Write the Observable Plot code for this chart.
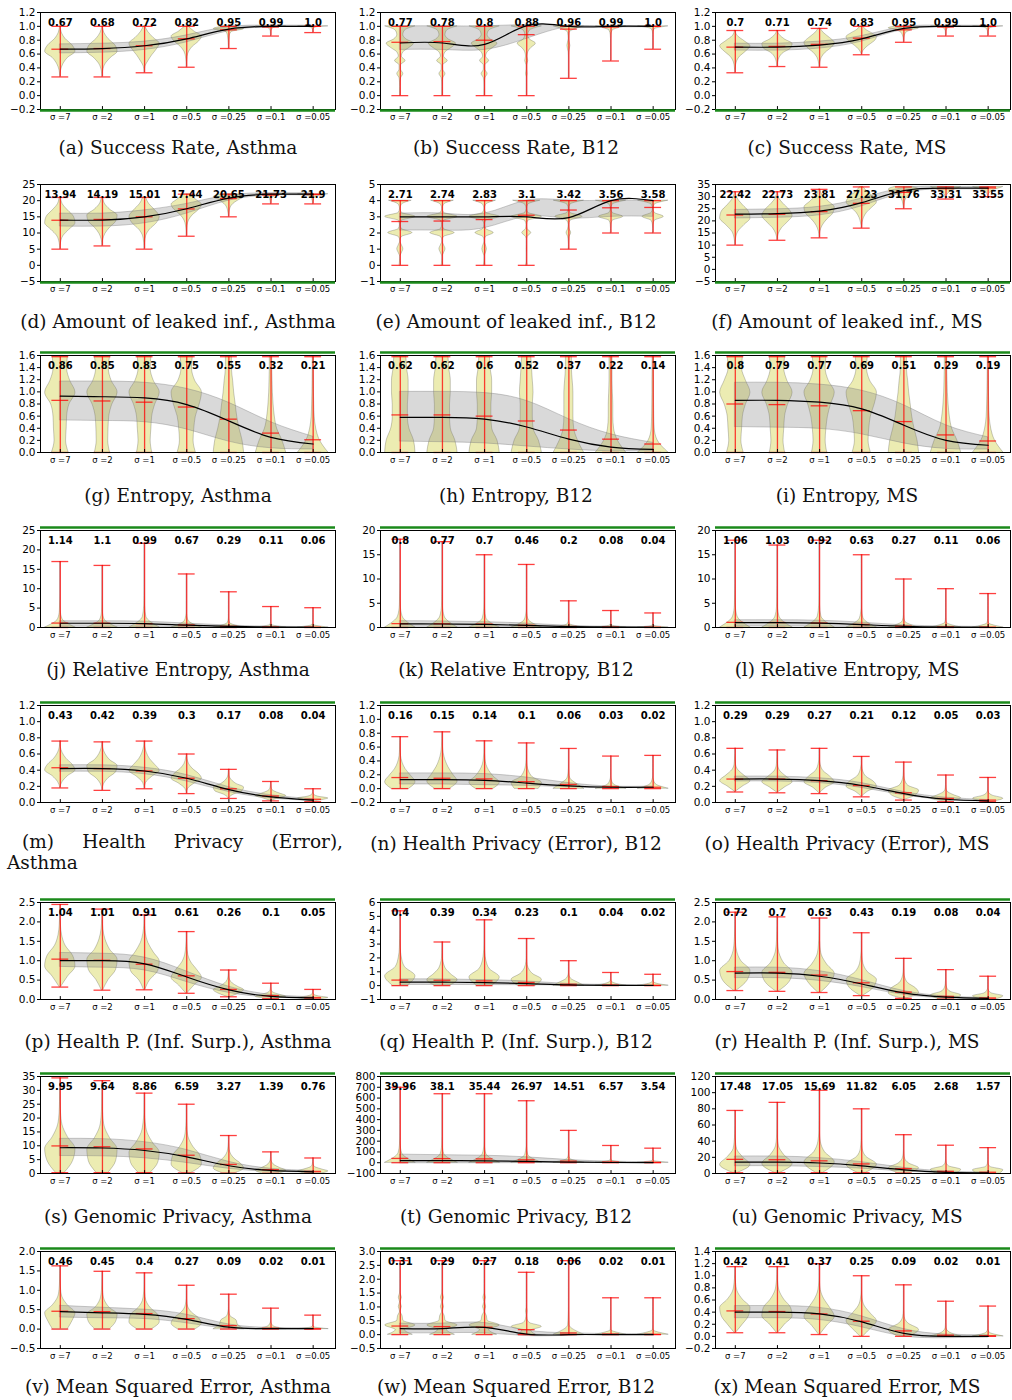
<!DOCTYPE html>
<html><head><meta charset="utf-8">
<script src="https://cdn.jsdelivr.net/npm/d3@7"></script>
<script src="https://cdn.jsdelivr.net/npm/@observablehq/plot@0.6"></script>
<style>
body{margin:0;background:#fff;}
#root{position:relative;width:1012px;height:1400px;overflow:hidden;background:#fff;}
.panel{position:absolute;}
.cap{position:absolute;font-family:"DejaVu Serif",serif;font-size:18.5px;color:#111;white-space:nowrap;transform:translate(-50%,-50%);}
.capm{position:absolute;font-family:"DejaVu Serif",serif;font-size:18.5px;color:#111;white-space:nowrap;}
.capm .l1{display:flex;justify-content:space-between;}
</style></head><body><div id="root"></div><script>
// ---------------- DATA ----------------
const SIGMA_LABELS = ["σ =7","σ =2","σ =1","σ =0.5","σ =0.25","σ =0.1","σ =0.05"];
const CAPTIONS = ["(a) Success Rate, Asthma","(b) Success Rate, B12","(c) Success Rate, MS",
"(d) Amount of leaked inf., Asthma","(e) Amount of leaked inf., B12","(f) Amount of leaked inf., MS",
"(g) Entropy, Asthma","(h) Entropy, B12","(i) Entropy, MS",
"(j) Relative Entropy, Asthma","(k) Relative Entropy, B12","(l) Relative Entropy, MS",
"(m) Health Privacy (Error), Asthma","(n) Health Privacy (Error), B12","(o) Health Privacy (Error), MS",
"(p) Health P. (Inf. Surp.), Asthma","(q) Health P. (Inf. Surp.), B12","(r) Health P. (Inf. Surp.), MS",
"(s) Genomic Privacy, Asthma","(t) Genomic Privacy, B12","(u) Genomic Privacy, MS",
"(v) Mean Squared Error, Asthma","(w) Mean Squared Error, B12","(x) Mean Squared Error, MS"];
const Y_DOMAINS = [[-0.2,1.2],[-0.2,1.2],[-0.2,1.2],[-5,25],[-1,5],[-5,35],[0,1.6],[0,1.6],[0,1.6],
[0,25],[0,20],[0,20],[0,1.2],[-0.2,1.2],[0,1.2],[0,2.5],[-1,6],[0,2.5],[0,35],[-100,800],[0,120],
[-0.5,2.0],[-0.5,3.0],[-0.2,1.4]];
const Y_STEPS = [0.2,0.2,0.2,5,1,5,0.2,0.2,0.2,5,5,5,0.2,0.2,0.2,0.5,1,0.5,5,100,20,0.5,0.5,0.2];
const Y_DECIMALS = [1,1,1,0,0,0,1,1,1,0,0,0,1,1,1,1,0,1,0,0,0,1,1,1];
const MEAN_LABELS = [
["0.67","0.68","0.72","0.82","0.95","0.99","1.0"],["0.77","0.78","0.8","0.88","0.96","0.99","1.0"],["0.7","0.71","0.74","0.83","0.95","0.99","1.0"],
["13.94","14.19","15.01","17.44","20.65","21.73","21.9"],["2.71","2.74","2.83","3.1","3.42","3.56","3.58"],["22.42","22.73","23.81","27.23","31.76","33.31","33.55"],
["0.86","0.85","0.83","0.75","0.55","0.32","0.21"],["0.62","0.62","0.6","0.52","0.37","0.22","0.14"],["0.8","0.79","0.77","0.69","0.51","0.29","0.19"],
["1.14","1.1","0.99","0.67","0.29","0.11","0.06"],["0.8","0.77","0.7","0.46","0.2","0.08","0.04"],["1.06","1.03","0.92","0.63","0.27","0.11","0.06"],
["0.43","0.42","0.39","0.3","0.17","0.08","0.04"],["0.16","0.15","0.14","0.1","0.06","0.03","0.02"],["0.29","0.29","0.27","0.21","0.12","0.05","0.03"],
["1.04","1.01","0.91","0.61","0.26","0.1","0.05"],["0.4","0.39","0.34","0.23","0.1","0.04","0.02"],["0.72","0.7","0.63","0.43","0.19","0.08","0.04"],
["9.95","9.64","8.86","6.59","3.27","1.39","0.76"],["39.96","38.1","35.44","26.97","14.51","6.57","3.54"],["17.48","17.05","15.69","11.82","6.05","2.68","1.57"],
["0.46","0.45","0.4","0.27","0.09","0.02","0.01"],["0.31","0.29","0.27","0.18","0.06","0.02","0.01"],["0.42","0.41","0.37","0.25","0.09","0.02","0.01"]];
const MINS = [
[0.27,0.27,0.33,0.41,0.68,0.86,0.91],[0,0,0,0,0.25,0.5,0.67],[0.33,0.42,0.41,0.59,0.77,0.86,0.86],
[5,6,5,9,15,19,19],[0,0,0,0,1,2,2],[10,12,13,17,25,29,30],
[0,0,0,0,0,0,0],[0,0,0,0,0,0,0],[0,0,0,0,0,0,0],
[0,0,0,0,0,0,0],[0,0,0,0,0,0,0],[0,0,0,0,0,0,0],
[0.18,0.15,0.17,0.11,0.05,0.02,0.01],[0,0,0,0,0,0,0],[0.13,0.12,0.11,0.07,0.03,0.01,0.01],
[0.32,0.24,0.25,0.16,0.07,0.02,0.01],[0,0,0,0,0,0,0],[0.23,0.21,0.18,0.1,0.03,0.01,0.01],
[0.3,0.3,0.3,0.2,0.1,0.05,0.05],[0,0,0,0,0,0,0],[1,1,1,1,0.5,0.2,0.2],
[0,0,0,0,0,0,0],[0,0,0,0,0,0,0],[0.06,0.06,0.03,0,0,0,0]];
const MAXS = [
[1,1,1,1,1,1,1],[1,1,1,1,1,1,1],[0.94,0.94,0.97,1,1,1,1],
[21,21,21,22,22,22,22],[4,4,4,4,4,4,4],[32,32,33,34,34,34,34],
[1.58,1.58,1.58,1.58,1.58,1.58,1.58],[1.58,1.58,1.58,1.58,1.58,1.58,1.58],[1.58,1.58,1.58,1.58,1.58,1.58,1.58],
[17,16,21.7,13.8,9.2,5.4,5.1],[18.2,17.7,15,13,5.5,3.5,3],[18,17,18,15,10,8,7],
[0.76,0.75,0.76,0.6,0.41,0.26,0.17],[0.75,0.82,0.69,0.66,0.58,0.47,0.48],[0.67,0.65,0.67,0.57,0.5,0.34,0.31],
[2.45,2.33,2.18,1.75,0.76,0.42,0.26],[5.4,3.15,4.75,3.4,1.8,0.95,0.82],[2.25,2.13,2.1,1.72,1.06,0.77,0.6],
[34.5,33.5,29,25,13.7,7.8,5.6],[700,640,640,575,300,160,135],[78,88,103,80,48,35,32],
[1.63,1.49,1.45,1.13,0.9,0.54,0.36],[2.67,2.67,2.67,2.25,2.67,1.33,1.33],[1.15,1.15,1.2,1.0,0.85,0.58,0.5]];
const TREND = [
[0.67,0.68,0.72,0.82,0.96,1.0,1.0],[0.76,0.76,0.74,1.01,1.0,1.0,1.0],[0.70,0.70,0.73,0.82,0.97,1.0,1.0],
[14,14,15,17.5,20.8,22,22],[3,3,3,3,2.95,4,4],[22.8,23,24,27.5,32.5,33.5,33.5],
[0.93,0.92,0.90,0.79,0.52,0.25,0.14],[0.58,0.58,0.55,0.42,0.22,0.09,0.05],[0.86,0.86,0.83,0.72,0.45,0.2,0.12],
[1.1,1.1,1.0,0.6,0.3,0.1,0.05],[0.75,0.72,0.65,0.42,0.18,0.07,0.04],[1.0,1.0,0.9,0.6,0.25,0.1,0.05],
[0.42,0.42,0.39,0.30,0.16,0.07,0.03],[0.13,0.13,0.12,0.08,0.04,0.02,0.02],[0.29,0.29,0.27,0.21,0.11,0.04,0.02],
[1.0,1.0,0.92,0.58,0.25,0.08,0.04],[0.25,0.25,0.22,0.15,0.05,0.02,0.01],[0.68,0.68,0.6,0.4,0.17,0.06,0.03],
[9.3,9.2,8.3,6.0,2.8,1.1,0.6],[20,20,18,12,6,2,1],[14,14,13,9.5,4.5,1.5,0.8],
[0.45,0.42,0.38,0.25,0.05,0.01,0.01],[0.22,0.22,0.26,0.02,0,0,0],[0.4,0.4,0.37,0.24,0.05,0,0]];
const BAND_LO = [
[0.61,0.62,0.66,0.77,0.93,0.99,0.99],[0.66,0.66,0.66,0.82,0.99,0.99,0.99],[0.65,0.65,0.68,0.78,0.95,0.99,0.99],
[12,12,13,16,20,21.6,21.6],[2.15,2.15,2.3,3.0,2.9,3.0,3.0],[21,21.3,22.3,26,31.5,33,33],
[0.53,0.52,0.50,0.38,0.18,0.07,0.05],[0.18,0.17,0.15,0.10,0.05,0.02,0.02],[0.42,0.41,0.39,0.30,0.15,0.06,0.05],
[0.2,0.2,0.2,0.1,0.05,0.01,0.01],[0.15,0.15,0.13,0.08,0.03,0.01,0.01],[0.2,0.2,0.18,0.1,0.05,0.02,0.01],
[0.38,0.38,0.35,0.26,0.13,0.05,0.02],[0.06,0.06,0.05,0.04,0.02,0.01,0.01],[0.26,0.26,0.24,0.18,0.09,0.03,0.01],
[0.84,0.82,0.75,0.45,0.17,0.05,0.02],[0.05,0.05,0.04,0.03,0.01,0,0],[0.55,0.55,0.48,0.32,0.12,0.03,0.01],
[6.3,6.2,5.5,3.8,1.7,0.6,0.3],[-5,-5,-5,-3,-2,-1,-1],[9,9,8,6,2.5,0.5,0.2],
[0.3,0.28,0.26,0.15,0.01,-0.01,-0.01],[0.05,0.05,0.05,-0.05,-0.04,-0.01,-0.01],[0.3,0.3,0.27,0.15,0,-0.03,-0.02]];
const BAND_HI = [
[0.74,0.75,0.78,0.87,0.99,1.01,1.01],[1,1,1,1.02,1.01,1.0,1.0],[0.75,0.75,0.78,0.86,0.99,1.01,1.01],
[16,16,17,19,21.6,22.3,22.3],[3.2,3.2,3.2,4.0,4.0,4.0,4.0],[24.5,24.8,25.8,29.2,33.5,34,34],
[1.17,1.17,1.15,1.05,0.82,0.5,0.26],[1.0,1.0,0.98,0.85,0.55,0.3,0.16],[1.15,1.15,1.12,1.02,0.78,0.45,0.25],
[1.6,1.6,1.5,1.0,0.5,0.2,0.1],[1.3,1.25,1.1,0.8,0.35,0.15,0.08],[1.5,1.5,1.4,1.0,0.45,0.2,0.1],
[0.46,0.46,0.43,0.34,0.19,0.09,0.04],[0.22,0.22,0.21,0.16,0.08,0.03,0.03],[0.32,0.32,0.30,0.24,0.13,0.06,0.03],
[1.2,1.18,1.08,0.72,0.33,0.12,0.06],[0.45,0.45,0.4,0.3,0.12,0.05,0.03],[0.82,0.82,0.73,0.5,0.22,0.08,0.04],
[12.5,12.4,11.3,8.5,4.2,1.7,0.9],[75,70,65,50,25,10,5],[21,21,19,14,7,2.5,1.2],
[0.6,0.55,0.5,0.37,0.12,0.03,0.02],[0.4,0.4,0.42,0.15,0.05,0.02,0.02],[0.5,0.5,0.47,0.33,0.12,0.03,0.02]];
// violin profiles: relative half-widths at evenly spaced levels from min to max
const VIOLINS = [
[[0,.05,.2,.5,1,.8,.35,.1,.02],[0,.05,.2,.55,1,.85,.4,.12,.02],[0,.05,.25,.5,.8,1,.6,.25,.05],[0,.02,.05,.15,.4,.8,1,.5,.1],[0,.01,.02,.03,.05,.08,.2,1,.3],[0,0,.01,.01,.02,.05,.1,.3,1],[0,0,.01,.01,.02,.05,.1,.3,1]],
[[.02,.02,.01,.02,.05,.2,.05,.05,.35,.1,.2,.6,.9,.4,.2,.3,1],[.02,.02,.01,.02,.05,.2,.05,.05,.35,.1,.2,.6,.9,.4,.2,.3,1],[.02,.02,.01,.02,.05,.2,.05,.05,.3,.1,.2,.55,.85,.4,.2,.3,1],[.01,0,0,0,0,.05,.02,.02,.1,.05,.1,.3,.6,.2,.1,.2,1],[0,0,0,0,.02,.1,.02,.05,1],[0,0,0,0,0,0,.02,.1,1],[0,0,0,0,0,0,.02,.1,1]],
[[0,.03,.1,.3,.7,1,.6,.15,.02],[0,.05,.15,.4,.9,1,.5,.15,.02],[0,.05,.15,.4,.8,1,.7,.3,.05],[0,.1,.3,.6,.9,1,.7,.3,.1],[0,.01,.02,.05,.1,.2,.5,1,.4],[0,0,.01,.01,.02,.05,.1,.3,1],[0,0,.01,.01,.02,.05,.1,.3,1]],
[[0,.05,.2,.6,1,.9,.5,.15,.05],[0,.05,.2,.5,.9,1,.5,.15,.05],[0,.03,.1,.35,.8,1,.7,.3,.1],[0,.02,.05,.15,.4,.8,1,.6,.2],[0,.02,.05,.1,.2,.4,.7,1,.5],[0,.02,.02,.05,.05,.1,.2,.5,1],[0,.02,.02,.05,.05,.1,.2,.5,1]],
[[.05,.02,0,.1,.2,.1,0,.1,.8,.1,.02,.1,1,.1,.02,.1,.75],[.05,.02,0,.1,.2,.1,0,.1,.8,.1,.02,.1,1,.1,.02,.1,.75],[.05,.02,0,.08,.15,.08,0,.08,.6,.1,.02,.1,1,.1,.02,.1,.75],[.05,.01,0,0,.02,0,0,.05,.3,.05,.02,.1,1,.1,.02,.1,.9],[.02,0,.02,.05,.15,.05,.02,.1,.9,.1,.02,.1,1],[.02,0,.02,.1,.8,.1,.02,.1,1],[.02,0,.02,.1,.7,.1,.02,.1,1]],
[[0,.05,.2,.6,1,.9,.5,.15,.02],[0,.08,.3,.7,1,.8,.4,.1,.02],[0,.05,.2,.5,.9,1,.6,.2,.05],[0,.05,.15,.35,.7,1,.8,.4,.1],[0,.02,.05,.1,.2,.35,.6,1,.6],[0,.02,.05,.1,.2,.3,.5,.8,1],[0,.02,.05,.1,.2,.3,.5,.8,1]],
[[.55,.38,.42,.45,.6,1,.65,.45,.5],[.5,.38,.4,.45,.65,1,.6,.42,.5],[.5,.4,.45,.5,.7,1,.6,.4,.45],[.6,.45,.5,.6,.85,1,.55,.35,.4],[1,.9,.7,.55,.45,.35,.28,.2,.2],[1,.75,.4,.25,.17,.12,.1,.08,.08],[1,.45,.2,.1,.07,.05,.04,.03,.03]],
[[1,.9,.6,.5,.5,.55,.55,.45,.4],[1,.85,.55,.5,.5,.55,.55,.45,.4],[1,.85,.5,.45,.45,.5,.5,.4,.35],[1,.8,.45,.4,.4,.45,.4,.35,.3],[1,.6,.35,.3,.3,.3,.25,.2,.2],[1,.45,.2,.15,.15,.12,.1,.1,.1],[1,.3,.1,.07,.06,.05,.05,.04,.04]],
[[.55,.4,.45,.5,.7,1,.7,.45,.5],[.5,.4,.45,.5,.7,1,.65,.45,.5],[.5,.4,.45,.55,.75,1,.6,.4,.45],[.6,.45,.5,.6,.85,1,.55,.35,.4],[1,.9,.7,.55,.45,.35,.28,.2,.2],[1,.75,.4,.25,.17,.12,.1,.08,.08],[1,.45,.2,.1,.07,.05,.04,.03,.03]],
[[1,.15,.03,.01,0,0,0,0,0],[1,.15,.03,.01,0,0,0,0,0],[1,.12,.03,.01,0,0,0,0,0],[1,.12,.02,0,0,0,0,0,0],[1,.08,.01,0,0,0,0,0,0],[1,.05,0,0,0,0,0,0,0],[1,.05,0,0,0,0,0,0,0]],
[[1,.15,.03,.01,0,0,0,0,0],[1,.15,.03,.01,0,0,0,0,0],[1,.12,.03,.01,0,0,0,0,0],[1,.12,.02,0,0,0,0,0,0],[1,.08,.01,0,0,0,0,0,0],[1,.05,0,0,0,0,0,0,0],[1,.05,0,0,0,0,0,0,0]],
[[1,.15,.03,.01,0,0,0,0,0],[1,.15,.03,.01,0,0,0,0,0],[1,.12,.03,.01,0,0,0,0,0],[1,.12,.02,0,0,0,0,0,0],[1,.08,.01,0,0,0,0,0,0],[1,.05,0,0,0,0,0,0,0],[1,.05,0,0,0,0,0,0,0]],
[[0,.15,.5,1,.8,.4,.15,.03,0],[0,.1,.4,.9,1,.5,.2,.05,0],[0,.1,.5,1,.7,.35,.15,.04,0],[0,.1,.5,1,.8,.4,.15,.05,0],[0,.3,.9,1,.5,.2,.05,.02,0],[0,.5,1,.6,.2,.05,.02,0,0],[0,.6,1,.4,.1,.03,0,0,0]],
[[.6,1,.7,.35,.15,.05,.02,.01,0],[.5,1,.7,.4,.2,.08,.03,.01,0],[.6,1,.6,.3,.12,.05,.02,.01,0],[.8,1,.4,.15,.05,.02,.01,0,0],[1,.5,.1,.03,.01,0,0,0,0],[1,.2,.05,0,0,0,0,0,0],[1,.2,.05,0,0,0,0,0,0]],
[[0,.5,1,.6,.2,.05,.02,0,0],[0,.5,1,.6,.2,.05,.02,0,0],[0,.4,1,.7,.25,.08,.02,0,0],[0,.4,1,.8,.3,.1,.03,0,0],[0,.8,1,.3,.1,.03,.01,0,0],[0,1,.5,.1,.02,0,0,0,0],[.3,1,.3,.05,0,0,0,0,0]],
[[.05,.5,1,.85,.35,.12,.04,.01,0],[.05,.4,.9,1,.5,.2,.06,.02,0],[.05,.35,.9,1,.6,.25,.08,.02,0],[.05,.5,1,.7,.3,.1,.04,.01,0],[.1,.7,1,.6,.25,.08,.03,.01,0],[.3,1,.6,.2,.05,.02,0,0,0],[.4,1,.5,.15,.05,.01,0,0,0]],
[[.5,1,.3,.1,.03,.01,0,0,0],[.5,1,.6,.25,.1,.03,.01,0,0],[.5,1,.35,.12,.04,.01,0,0,0],[.6,1,.4,.12,.03,.01,0,0,0],[1,.6,.2,.05,.01,0,0,0,0],[1,.4,.1,.02,0,0,0,0,0],[1,.4,.1,.02,0,0,0,0,0]],
[[.1,.8,1,.4,.12,.04,.01,0,0],[.1,.8,1,.45,.15,.05,.02,0,0],[.1,.7,1,.5,.15,.05,.02,0,0],[.1,.8,1,.4,.12,.04,.01,0,0],[.2,1,.8,.3,.1,.03,.01,0,0],[.5,1,.3,.08,.02,0,0,0,0],[.6,1,.25,.05,0,0,0,0,0]],
[[.3,.85,1,.5,.15,.05,.02,.01,0],[.4,.9,1,.5,.15,.05,.02,.01,0],[.4,.9,1,.55,.2,.07,.02,.01,0],[.3,1,.9,.45,.15,.05,.02,.01,0],[.4,1,.8,.4,.15,.05,.02,0,0],[.6,1,.6,.25,.08,.02,0,0,0],[.6,1,.6,.2,.05,.02,0,0,0]],
[[1,.12,.02,0,0,0,0,0,0],[1,.12,.02,0,0,0,0,0,0],[1,.12,.02,0,0,0,0,0,0],[1,.1,.02,0,0,0,0,0,0],[1,.08,.01,0,0,0,0,0,0],[1,.05,0,0,0,0,0,0,0],[1,.05,0,0,0,0,0,0,0]],
[[.2,1,.5,.12,.04,.01,0,0,0],[.2,1,.45,.1,.03,.01,0,0,0],[.25,1,.35,.08,.02,.01,0,0,0],[.3,1,.3,.06,.02,0,0,0,0],[.4,1,.35,.08,.02,0,0,0,0],[.7,1,.2,.03,0,0,0,0,0],[.8,1,.15,.02,0,0,0,0,0]],
[[.5,.8,1,.5,.15,.05,.02,.01,0],[.5,.9,1,.45,.15,.05,.02,0,0],[.5,1,.9,.4,.12,.04,.01,0,0],[.6,1,.8,.35,.1,.03,.01,0,0],[1,.6,.5,.1,.03,0,0,0,0],[1,.2,.05,0,0,0,0,0,0],[1,.1,0,0,0,0,0,0,0]],
[[.8,.3,1,.2,.15,.02,.1,.02,.1,.01,0,0,0,0,0,0,0],[.8,.3,1,.2,.15,.02,.1,.02,.1,.01,0,0,0,0,0,0,0],[.8,.3,1,.2,.15,.02,.1,.02,.08,.01,0,0,0,0,0,0,0],[.6,.3,1,.2,.05,.02,.05,.01,0,0,0,0,0,0,0,0,0],[1,.05,.02,0,0,0,0,0,0],[1,.02,0,0,0,0,0,0,0],[1,.02,0,0,0,0,0,0,0]],
[[.05,.5,.9,1,.5,.15,.05,.01,0],[.05,.5,1,.9,.45,.15,.05,.01,0],[.05,.5,1,.7,.3,.08,.02,0,0],[.1,.6,1,.6,.2,.05,.01,0,0],[.4,1,.3,.05,.01,0,0,0,0],[1,.2,.02,0,0,0,0,0,0],[1,.1,0,0,0,0,0,0,0]]];

// ---------------- LAYOUT ----------------
const COL_X = [0, 340, 675];
const FRAME_TOP = [12,184,355,530,705,902,1076,1251];
const FRAME_H = 97;
const CAP_Y = [147,321,495,669,843,1041,1216,1386];
const CAP_X = [178,516,847];
const MT = 8, MB = 20, ML = 40, MR = 2, W = 337;
const root = document.getElementById("root");
const idx = d3.range(7);

for (let p = 0; p < 24; p++) {
  const r = Math.floor(p / 3), c = p % 3;
  const [y0, y1] = Y_DOMAINS[p];
  const step = Y_STEPS[p];
  const ticks = d3.range(0, Math.round((y1 - y0) / step) + 1).map(k => +(y0 + k * step).toFixed(6));
  const fmt = v => v.toFixed(Y_DECIMALS[p]).replace("-", "\u2212");
  const means = MEAN_LABELS[p].map(Number);
  const vio = [];
  VIOLINS[p].forEach((ws, i) => {
    const lo = MINS[p][i], hi = MAXS[p][i], n = ws.length;
    ws.forEach((w, k) => vio.push({i, y: lo + (hi - lo) * k / (n - 1), w}));
  });
  const HW = 0.36, CW = 0.2;
  const red = {stroke: "#ff0000", strokeOpacity: 0.75, strokeWidth: 1.3};
  const yr = y1 - y0;
  const chart = Plot.plot({
    width: W, height: FRAME_H + MT + MB,
    marginTop: MT, marginBottom: MB, marginLeft: ML, marginRight: MR,
    x: {domain: [-0.47, 6.53], axis: null},
    y: {domain: [y0, y1], axis: null},
    style: {fontFamily: "DejaVu Sans, sans-serif", fontSize: "10px", background: "transparent", overflow: "visible"},
    marks: [
      Plot.areaX(vio, {y: "y", x1: d => d.i - d.w * HW, x2: d => d.i + d.w * HW, z: "i", curve: "monotone-y",
        fill: "#bfbf00", fillOpacity: 0.3, stroke: "#000", strokeOpacity: 0.25, strokeWidth: 0.8, clip: true}),
      Plot.areaY(idx, {x: i => i, y1: i => BAND_LO[p][i], y2: i => BAND_HI[p][i], curve: "natural",
        fill: "#808080", fillOpacity: 0.3, stroke: "#808080", strokeOpacity: 0.5, strokeWidth: 0.8, clip: true}),
      Plot.ruleX(idx, {x: i => i, y1: i => MINS[p][i], y2: i => MAXS[p][i], ...red}),
      Plot.ruleY(idx, {y: i => MINS[p][i], x1: i => i - CW, x2: i => i + CW, ...red}),
      Plot.ruleY(idx, {y: i => MAXS[p][i], x1: i => i - CW, x2: i => i + CW, ...red}),
      Plot.ruleY(idx, {y: i => means[i], x1: i => i - CW, x2: i => i + CW, ...red}),
      Plot.line(idx, {x: i => i, y: i => TREND[p][i], curve: "natural", stroke: "#000", strokeWidth: 1.2, clip: true}),
      Plot.ruleX(idx, {x: i => i, y1: y0, y2: y0 + yr * 0.03, stroke: "#000"}),
      Plot.text(idx, {x: i => i, text: i => MEAN_LABELS[p][i], frameAnchor: "top", dy: 6, fontWeight: "bold", fontSize: 10, fill: "#000"}),
      Plot.frame({stroke: "#000"}),
      Plot.ruleY([r < 2 ? y0 : y1], {stroke: "#1b8a1b", strokeWidth: 2.5, dy: r < 2 ? 1 : -3}),
      Plot.axisY(ticks, {tickFormat: fmt, tickSize: 3, tickPadding: 2, fontSize: 10.5, label: null}),
      Plot.axisX(idx, {tickFormat: i => SIGMA_LABELS[i], tickSize: 0, tickPadding: 4, fontSize: 8.5, label: null})
    ]
  });
  const wrap = document.createElement("div");
  wrap.className = "panel";
  wrap.style.left = COL_X[c] + "px";
  wrap.style.top = (FRAME_TOP[r] - MT) + "px";
  wrap.appendChild(chart);
  root.appendChild(wrap);

  if (p === 12) {
    const cap = document.createElement("div");
    cap.className = "capm";
    cap.style.left = "7px"; cap.style.top = (CAP_Y[r] - 12) + "px"; cap.style.width = "336px";
    const words = CAPTIONS[p].split(" ");
    const l1 = document.createElement("div"); l1.className = "l1"; l1.style.marginLeft = "15px";
    words.slice(0, 4).forEach(w => { const s = document.createElement("span"); s.textContent = w; l1.appendChild(s); });
    const l2 = document.createElement("div"); l2.textContent = words.slice(4).join(" ");
    cap.appendChild(l1); cap.appendChild(l2);
    root.appendChild(cap);
  } else {
    const cap = document.createElement("div");
    cap.className = "cap";
    cap.style.left = CAP_X[c] + "px"; cap.style.top = CAP_Y[r] + "px";
    cap.textContent = CAPTIONS[p];
    root.appendChild(cap);
  }
}
</script></body></html>
